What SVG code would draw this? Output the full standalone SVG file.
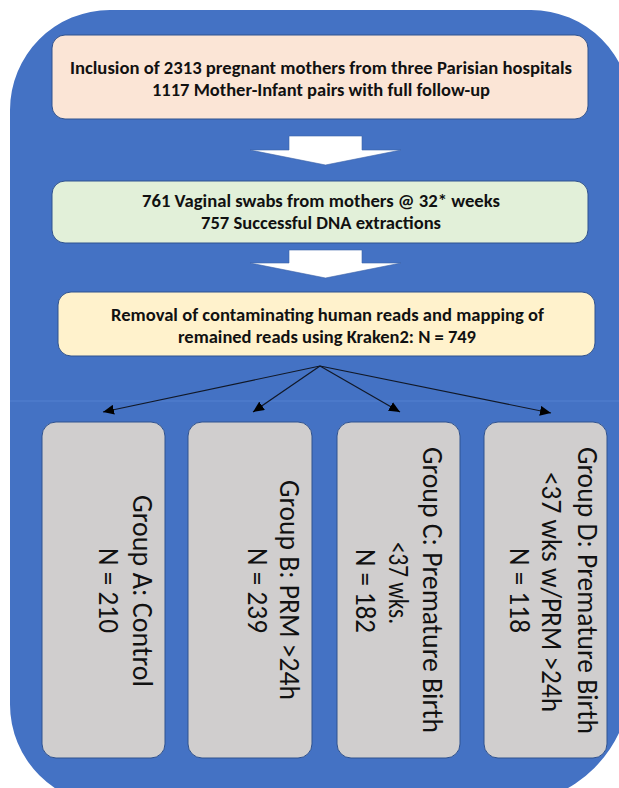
<svg xmlns="http://www.w3.org/2000/svg" width="619" height="788" viewBox="0 0 619 788">
  <defs>
    <style>
      .bold { font-family: Carlito, 'Liberation Sans', Arial, sans-serif; font-weight: bold; font-size: 18px; fill: #111; text-anchor: middle; }
      .grp { font-family: Carlito, 'Liberation Sans', Arial, sans-serif; font-size: 28px; fill: #111; text-anchor: middle; dominant-baseline: central; }
      .box { stroke: #2F528F; stroke-width: 1; }
      .barrow { fill: #FFFFFF; stroke: #3A62A8; stroke-width: 0.6; }
      .conn { stroke: #111827; stroke-width: 1.2; fill: none; marker-end: url(#ah); }
    </style>
    <marker id="ah" markerUnits="userSpaceOnUse" markerWidth="12" markerHeight="10" refX="11" refY="5" orient="auto">
      <path d="M0,0 L11,5 L0,10 Z" fill="#000"/>
    </marker>
  </defs>

  <rect x="0" y="0" width="619" height="788" fill="#FFFFFF"/>
  <g id="background">
    <path d="M110,10 H531 A100,100 0 0 1 631,110 V679.5 A125,125 0 0 1 506,804.5 H110 A100,100 0 0 1 10,704.5 V110 A100,100 0 0 1 110,10 Z" fill="#4472C4"/>
    <line x1="10" y1="401" x2="619" y2="401" stroke="#4E7DCD" stroke-width="1.5"/>
  </g>

  <g id="node-inclusion">
    <rect class="box" x="52" y="35" width="536" height="84" rx="13" fill="#FBE5D6"/>
    <text class="bold" x="321" y="74" textLength="502" lengthAdjust="spacingAndGlyphs">Inclusion of 2313 pregnant mothers from three Parisian hospitals</text>
    <text class="bold" x="321" y="96" textLength="338" lengthAdjust="spacingAndGlyphs">1117 Mother-Infant pairs with full follow-up</text>
  </g>

  <g id="node-swabs">
    <rect class="box" x="52" y="181" width="536" height="62" rx="13" fill="#E2F0D9"/>
    <text class="bold" x="321" y="207" textLength="358" lengthAdjust="spacingAndGlyphs">761 Vaginal swabs from mothers @ 32* weeks</text>
    <text class="bold" x="321" y="229" textLength="240" lengthAdjust="spacingAndGlyphs">757 Successful DNA extractions</text>
  </g>

  <g id="node-kraken">
    <rect class="box" x="58" y="292" width="537" height="64" rx="13" fill="#FFF2CC"/>
    <text class="bold" x="327.5" y="321" textLength="433" lengthAdjust="spacingAndGlyphs">Removal of contaminating human reads and mapping of</text>
    <text class="bold" x="327" y="343" textLength="298" lengthAdjust="spacingAndGlyphs">remained reads using Kraken2: N = 749</text>
  </g>

  <g id="node-groupA">
    <rect class="box" x="42" y="422" width="123" height="336" rx="14" fill="#D0CECE"/>
    <text class="grp" transform="translate(142,591) rotate(90)" textLength="192" lengthAdjust="spacingAndGlyphs">Group A: Control</text>
    <text class="grp" transform="translate(108,590.5) rotate(90)" textLength="85" lengthAdjust="spacingAndGlyphs">N = 210</text>
  </g>

  <g id="node-groupB">
    <rect class="box" x="188" y="422" width="124" height="336" rx="14" fill="#D0CECE"/>
    <text class="grp" transform="translate(289,590) rotate(90)" textLength="220" lengthAdjust="spacingAndGlyphs">Group B: PRM &gt;24h</text>
    <text class="grp" transform="translate(257,590.5) rotate(90)" textLength="85" lengthAdjust="spacingAndGlyphs">N = 239</text>
  </g>

  <g id="node-groupC">
    <rect class="box" x="337" y="422" width="123" height="336" rx="14" fill="#D0CECE"/>
    <text class="grp" transform="translate(432,590) rotate(90)" textLength="286" lengthAdjust="spacingAndGlyphs">Group C: Premature Birth</text>
    <text class="grp" transform="translate(398,583) rotate(90)" textLength="82" lengthAdjust="spacingAndGlyphs">&lt;37 wks.</text>
    <text class="grp" transform="translate(365,591) rotate(90)" textLength="84" lengthAdjust="spacingAndGlyphs">N = 182</text>
  </g>

  <g id="node-groupD">
    <rect class="box" x="484" y="422" width="123" height="336" rx="14" fill="#D0CECE"/>
    <text class="grp" transform="translate(587,590.5) rotate(90)" textLength="287" lengthAdjust="spacingAndGlyphs">Group D: Premature Birth</text>
    <text class="grp" transform="translate(551,592) rotate(90)" textLength="240" lengthAdjust="spacingAndGlyphs">&lt;37 wks w/PRM &gt;24h</text>
    <text class="grp" transform="translate(519,590.5) rotate(90)" textLength="85" lengthAdjust="spacingAndGlyphs">N = 118</text>
  </g>

  <g id="connectors">
    <polygon class="barrow" points="289,136 362,136 362,150 401,150 325.5,165 250,150 289,150"/>
    <polygon class="barrow" points="289,250 362,250 362,263 401,263 325.5,278 250,263 289,263"/>
    <line class="conn" x1="320" y1="366" x2="103" y2="412"/>
    <line class="conn" x1="320" y1="366" x2="253" y2="412"/>
    <line class="conn" x1="320" y1="366" x2="400" y2="412"/>
    <line class="conn" x1="320" y1="366" x2="551" y2="413"/>
  </g>
</svg>
